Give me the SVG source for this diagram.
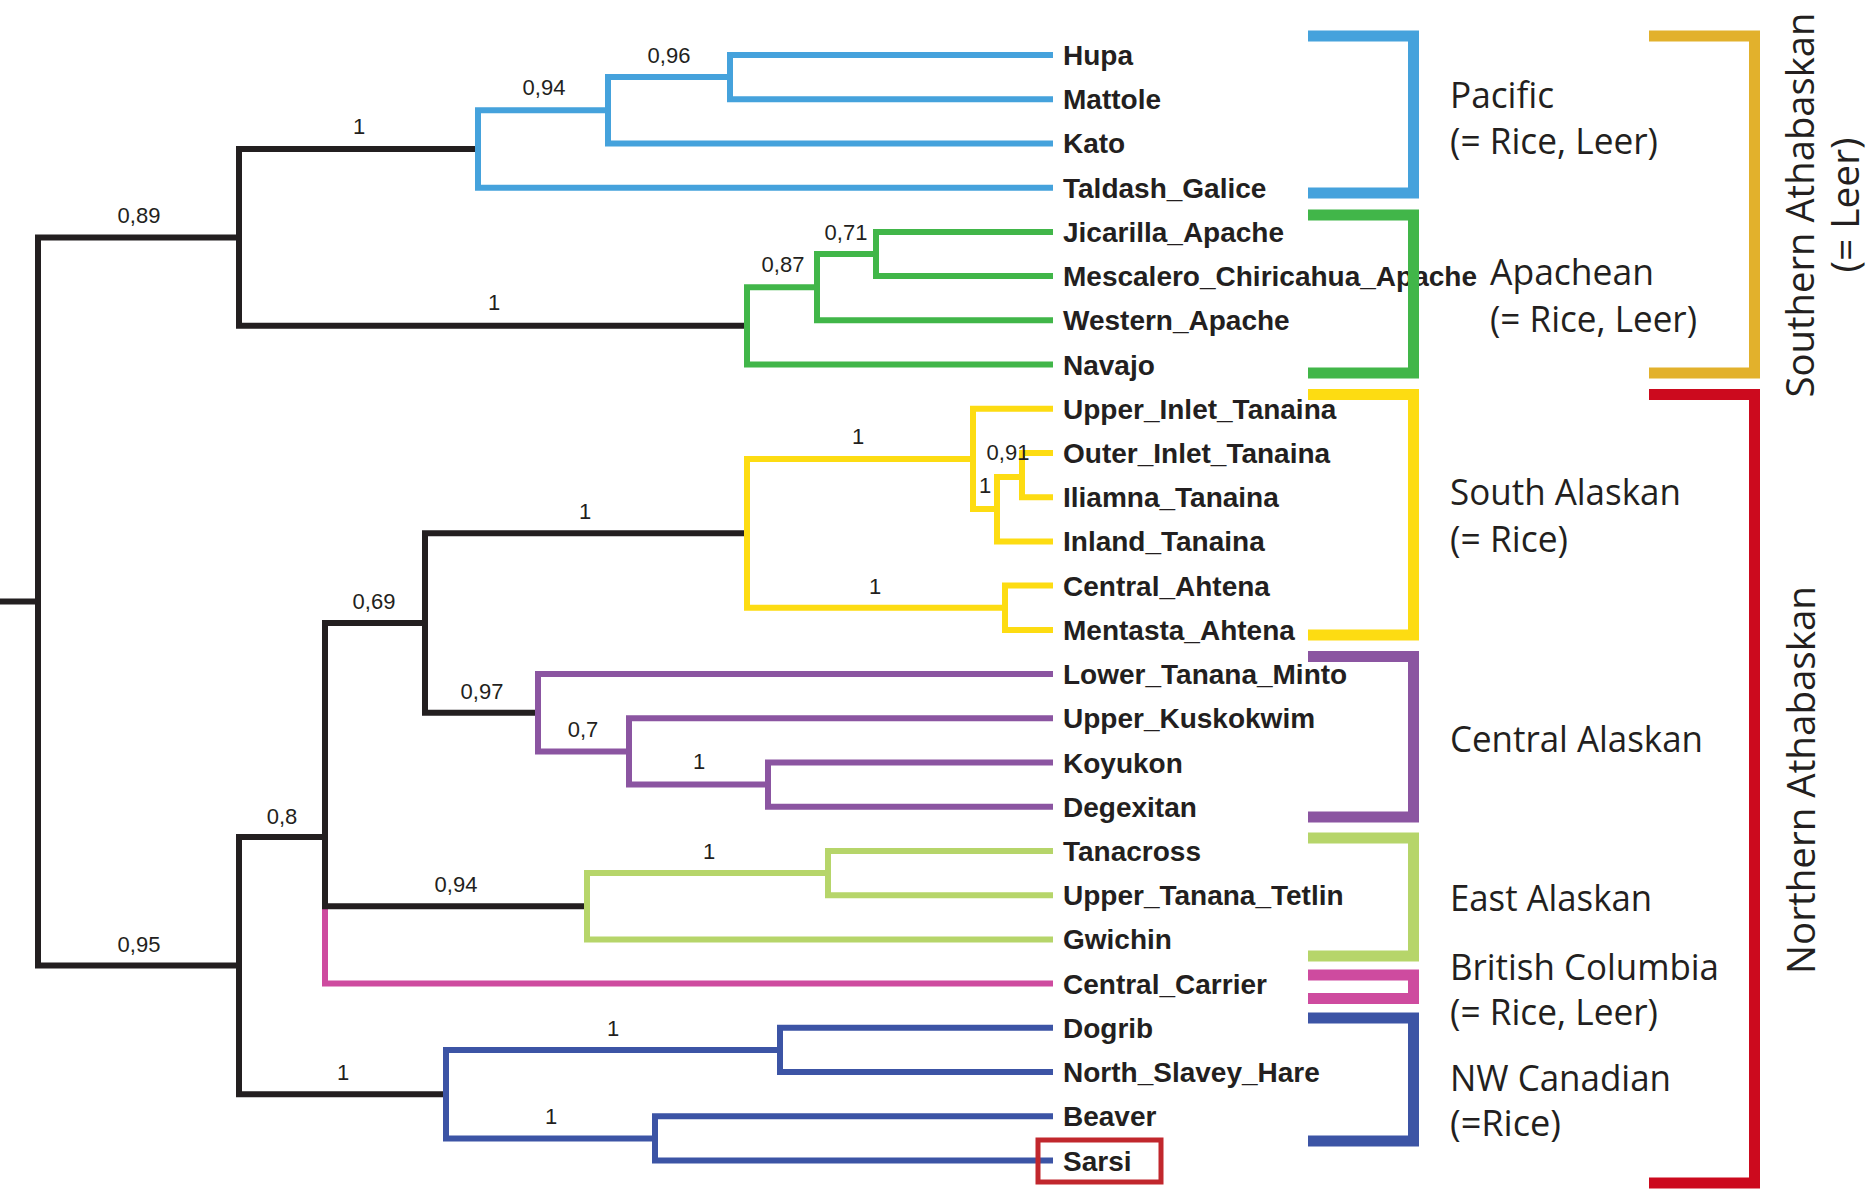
<svg xmlns="http://www.w3.org/2000/svg" width="1874" height="1189" viewBox="0 0 1874 1189">
<style>
.e{fill:none;stroke-width:6;stroke-linejoin:miter;stroke-linecap:butt}
.k{stroke:#231f20}
.bl{stroke:#45a2dc}
.gr{stroke:#41b649}
.ye{stroke:#fddc12}
.pu{stroke:#8b55a1}
.lg{stroke:#b6d56a}
.pk{stroke:#ce4b9f}
.db{stroke:#3c54a5}
.br{fill:none;stroke-width:11;stroke-linejoin:miter;stroke-linecap:butt}
.leaf{font-family:"Liberation Sans",Arial,sans-serif;font-weight:bold;font-size:28px;fill:#231f20}
.bs{font-family:"Liberation Sans",Arial,sans-serif;font-size:22px;fill:#231f20;text-anchor:middle}
.lab{font-family:"Open Sans","Noto Sans",sans-serif;font-size:36px;fill:#231f20}
.vl{font-family:"Open Sans","Noto Sans",sans-serif;font-size:38px;fill:#231f20;text-anchor:middle}
</style>
<rect width="1874" height="1189" fill="#ffffff"/>
<g id="connectors">
  <path class="e pk" d="M325,906.2 V983.6 H1053"/>
  <path class="e k" d="M239,237.4 H38 V965.6 H239"/>
  <path class="e k" d="M0,601.5 H38"/>
  <path class="e k" d="M478,149 H239 V325.8 H747"/>
  <path class="e k" d="M325,837 H239 V1094.2 H446"/>
  <path class="e k" d="M425,623 H325 V906.2 H587"/>
  <path class="e k" d="M747,533.3 H425 V712.8 H538"/>
  <path class="e bl" d="M608,110.3 H478 V187.7 H1053"/>
  <path class="e bl" d="M730,77.1 H608 V143.4 H1053"/>
  <path class="e bl" d="M1053,55 H730 V99.2 H1053"/>
  <path class="e gr" d="M817,287.2 H747 V364.5 H1053"/>
  <path class="e gr" d="M876,254 H817 V320.3 H1053"/>
  <path class="e gr" d="M1053,231.9 H876 V276.1 H1053"/>
  <path class="e ye" d="M973,458.9 H747 V607.7 H1005"/>
  <path class="e ye" d="M1053,408.8 H973 V509 H997"/>
  <path class="e ye" d="M1022,477 H997 V541.4 H1053"/>
  <path class="e ye" d="M1053,453 H1022 V497.2 H1053"/>
  <path class="e ye" d="M1053,585.6 H1005 V629.9 H1053"/>
  <path class="e pu" d="M1053,674.1 H538 V751.5 H629"/>
  <path class="e pu" d="M1053,718.3 H629 V784.6 H768"/>
  <path class="e pu" d="M1053,762.5 H768 V806.7 H1053"/>
  <path class="e lg" d="M828,873.1 H587 V939.4 H1053"/>
  <path class="e lg" d="M1053,851 H828 V895.2 H1053"/>
  <path class="e db" d="M780,1049.9 H446 V1138.4 H655"/>
  <path class="e db" d="M1053,1027.8 H780 V1072 H1053"/>
  <path class="e db" d="M1053,1116.3 H655 V1160.5 H1053"/>
</g>
<g id="support">
  <text class="bs" x="139" y="223">0,89</text>
  <text class="bs" x="359" y="134">1</text>
  <text class="bs" x="544" y="95">0,94</text>
  <text class="bs" x="669" y="63">0,96</text>
  <text class="bs" x="494" y="310">1</text>
  <text class="bs" x="783" y="272">0,87</text>
  <text class="bs" x="846" y="240">0,71</text>
  <text class="bs" x="858" y="444">1</text>
  <text class="bs" x="1008" y="460">0,91</text>
  <text class="bs" x="985" y="493">1</text>
  <text class="bs" x="875" y="594">1</text>
  <text class="bs" x="585" y="519">1</text>
  <text class="bs" x="374" y="609">0,69</text>
  <text class="bs" x="482" y="699">0,97</text>
  <text class="bs" x="583" y="737">0,7</text>
  <text class="bs" x="699" y="769">1</text>
  <text class="bs" x="282" y="824">0,8</text>
  <text class="bs" x="456" y="892">0,94</text>
  <text class="bs" x="709" y="859">1</text>
  <text class="bs" x="139" y="952">0,95</text>
  <text class="bs" x="343" y="1080">1</text>
  <text class="bs" x="613" y="1036">1</text>
  <text class="bs" x="551" y="1124">1</text>
</g>
<g id="leaves">
  <g id="hupa"><text class="leaf" x="1063" y="65">Hupa</text></g>
  <g id="mattole"><text class="leaf" x="1063" y="109.2">Mattole</text></g>
  <g id="kato"><text class="leaf" x="1063" y="153.4">Kato</text></g>
  <g id="taldash"><text class="leaf" x="1063" y="197.7">Taldash_Galice</text></g>
  <g id="jicarilla"><text class="leaf" x="1063" y="241.9">Jicarilla_Apache</text></g>
  <g id="mescalero"><text class="leaf" x="1063" y="286.1">Mescalero_Chiricahua_Apache</text></g>
  <g id="western"><text class="leaf" x="1063" y="330.3">Western_Apache</text></g>
  <g id="navajo"><text class="leaf" x="1063" y="374.5">Navajo</text></g>
  <g id="upperinlet"><text class="leaf" x="1063" y="418.8">Upper_Inlet_Tanaina</text></g>
  <g id="outerinlet"><text class="leaf" x="1063" y="463">Outer_Inlet_Tanaina</text></g>
  <g id="iliamna"><text class="leaf" x="1063" y="507.2">Iliamna_Tanaina</text></g>
  <g id="inland"><text class="leaf" x="1063" y="551.4">Inland_Tanaina</text></g>
  <g id="centralahtena"><text class="leaf" x="1063" y="595.6">Central_Ahtena</text></g>
  <g id="mentasta"><text class="leaf" x="1063" y="639.9">Mentasta_Ahtena</text></g>
  <g id="lowertanana"><text class="leaf" x="1063" y="684.1">Lower_Tanana_Minto</text></g>
  <g id="upperkusk"><text class="leaf" x="1063" y="728.3">Upper_Kuskokwim</text></g>
  <g id="koyukon"><text class="leaf" x="1063" y="772.5">Koyukon</text></g>
  <g id="degexitan"><text class="leaf" x="1063" y="816.7">Degexitan</text></g>
  <g id="tanacross"><text class="leaf" x="1063" y="861">Tanacross</text></g>
  <g id="uppertanana"><text class="leaf" x="1063" y="905.2">Upper_Tanana_Tetlin</text></g>
  <g id="gwichin"><text class="leaf" x="1063" y="949.4">Gwichin</text></g>
  <g id="carrier"><text class="leaf" x="1063" y="993.6">Central_Carrier</text></g>
  <g id="dogrib"><text class="leaf" x="1063" y="1037.8">Dogrib</text></g>
  <g id="hare"><text class="leaf" x="1063" y="1082">North_Slavey_Hare</text></g>
  <g id="beaver"><text class="leaf" x="1063" y="1126.3">Beaver</text></g>
  <g id="sarsi"><rect x="1038" y="1140" width="123" height="42" fill="none" stroke="#c1272d" stroke-width="5"/><text class="leaf" x="1063" y="1170.5">Sarsi</text></g>
</g>
<g id="brackets">
  <g id="pacific"><path class="br" stroke="#45a2dc" d="M1308,36 H1413.5 V193 H1308"/>
    <text class="lab" x="1450" y="108" textLength="104" lengthAdjust="spacingAndGlyphs">Pacific</text>
    <text class="lab" x="1450" y="154" textLength="208" lengthAdjust="spacingAndGlyphs">(= Rice, Leer)</text></g>
  <g id="apachean"><path class="br" stroke="#41b649" d="M1308,215 H1413.5 V373 H1308"/>
    <text class="lab" x="1490" y="285" textLength="164" lengthAdjust="spacingAndGlyphs">Apachean</text>
    <text class="lab" x="1490" y="332" textLength="207" lengthAdjust="spacingAndGlyphs">(= Rice, Leer)</text></g>
  <g id="southalaskan"><path class="br" stroke="#fddc12" d="M1308,394.5 H1413.5 V635 H1308"/>
    <text class="lab" x="1450" y="505" textLength="231" lengthAdjust="spacingAndGlyphs">South Alaskan</text>
    <text class="lab" x="1450" y="552" textLength="118" lengthAdjust="spacingAndGlyphs">(= Rice)</text></g>
  <g id="centralalaskan"><path class="br" stroke="#8b55a1" d="M1308,656.5 H1413.5 V817 H1308"/>
    <text class="lab" x="1450" y="752" textLength="253" lengthAdjust="spacingAndGlyphs">Central Alaskan</text></g>
  <g id="eastalaskan"><path class="br" stroke="#b6d56a" d="M1308,838 H1413.5 V956 H1308"/>
    <text class="lab" x="1450" y="911" textLength="202" lengthAdjust="spacingAndGlyphs">East Alaskan</text></g>
  <g id="britishcolumbia"><path class="br" stroke="#ce4b9f" d="M1308,975 H1413.5 V998.5 H1308"/>
    <text class="lab" x="1450" y="980" textLength="269" lengthAdjust="spacingAndGlyphs">British Columbia</text>
    <text class="lab" x="1450" y="1025" textLength="208" lengthAdjust="spacingAndGlyphs">(= Rice, Leer)</text></g>
  <g id="nwcanadian"><path class="br" stroke="#3c54a5" d="M1308,1018 H1413.5 V1141 H1308"/>
    <text class="lab" x="1450" y="1091" textLength="221" lengthAdjust="spacingAndGlyphs">NW Canadian</text>
    <text class="lab" x="1450" y="1136" textLength="111" lengthAdjust="spacingAndGlyphs">(=Rice)</text></g>
  <g id="southern"><path class="br" stroke="#e2b12c" d="M1649,36 H1754.5 V373 H1649"/>
    <text class="vl" transform="translate(1814,205) rotate(-90)" textLength="385" lengthAdjust="spacingAndGlyphs">Southern Athabaskan</text>
    <text class="vl" transform="translate(1859,205) rotate(-90)" textLength="135" lengthAdjust="spacingAndGlyphs">(= Leer)</text></g>
  <g id="northern"><path class="br" stroke="#cc0a1e" d="M1649,394.5 H1754.5 V1183 H1649"/>
    <text class="vl" transform="translate(1815,780) rotate(-90)" textLength="388" lengthAdjust="spacingAndGlyphs">Northern Athabaskan</text></g>
</g>
</svg>
